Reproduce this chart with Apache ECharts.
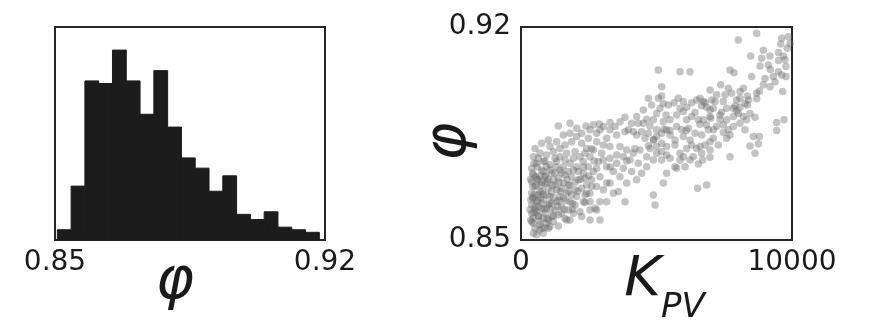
<!DOCTYPE html>
<html><head><meta charset="utf-8">
<script src="https://cdn.jsdelivr.net/npm/echarts@6/dist/echarts.min.js"></script>
<style>html,body{margin:0;padding:0;background:#fff}#c{width:869px;height:335px}</style>
</head><body><div id="c"></div><script>
// ---- data ----
const binEdges = [0.8506,0.85418,0.85775,0.86133,0.8649,0.86848,0.87205,0.87563,0.8792,0.88278,0.88635,0.88993,0.8935,0.89708,0.90065,0.90423,0.9078,0.91138,0.91495,0.91853];
const binCounts = [4,21,62,61,74,62,49,66,44,32,28,19,25,10,8,11,5,4,3];
const histTicks = [0.85, 0.92];
const kpvTicks = [0, 10000];
const phiTicks = [0.85, 0.92];
const scatterPoints = [
[8696,0.9179],[8020,0.9157],[9865,0.9168],[9582,0.9144],[9828,0.9130],[8475,0.9105],[8880,0.9097],[9188,0.9105],[8819,0.9072],[9127,0.9075],[9496,0.9116],[9680,0.9105],[9778,0.9070],[9496,0.9053],[9619,0.9042],[9778,0.9037],[9373,0.9020],[9655,0.8988],[9004,0.9031],[8512,0.9037],[8204,0.8999],[7712,0.9059],[7860,0.9050],[7650,0.8999],[7368,0.9010],[6974,0.8993],[7220,0.8977],[7466,0.8955],[7036,0.8960],[6728,0.8955],[8696,0.8964],[8352,0.8944],[8081,0.8936],[7958,0.8925],[8635,0.8903],[9434,0.8886],[9705,0.8895],[9434,0.8860],[8573,0.8840],[8794,0.8840],[8450,0.8809],[8758,0.8816],[8635,0.8785],[7712,0.8774],[7712,0.8845],[7466,0.8853],[7097,0.8834],[7282,0.8812],[6974,0.8772],[6703,0.8763],[6544,0.8750],[6851,0.8681],[6519,0.8670],[5068,0.9059],[5867,0.9053],[6236,0.9053],[5191,0.9004],[4699,0.8966],[5068,0.8966],[5191,0.8973],[5646,0.8951],[6113,0.8936],[6298,0.8951],[6482,0.8960],[6667,0.8941],[6851,0.8936],[7097,0.8933],[6421,0.8919],[5990,0.8922],[5744,0.8911],[5350,0.8911],[5006,0.8916],[4637,0.8897],[4268,0.8906],[3838,0.8903],[3284,0.8886],[2890,0.8881],[2669,0.8879],[2398,0.8875],[1808,0.8884],[1378,0.8875],
[4514,0.8884],[4760,0.8875],[5006,0.8862],[5277,0.8864],[5498,0.8845],[5744,0.8873],[5929,0.8862],[6175,0.8867],[6421,0.8851],[6667,0.8845],[6913,0.8862],[7220,0.8873],[7589,0.8895],[7835,0.8906],[8204,0.8906],[8081,0.8966],[8266,0.8949],[7958,0.8960],[7835,0.8933],[7589,0.8933],[7343,0.8895],[6974,0.8906],[6728,0.8895],
[3960,0.8862],[4145,0.8856],[3838,0.8856],[4268,0.8845],[4575,0.8834],[4883,0.8829],[5191,0.8818],[5006,0.8807],[5375,0.8807],[5682,0.8812],[5867,0.8785],[6113,0.8801],[6298,0.8812],[5990,0.8774],[6359,0.8774],[6605,0.8807],[6974,0.8823],[5498,0.8769],[5191,0.8763],[5682,0.8741],[5375,0.8719],[5252,0.8687],[4883,0.8648],[4945,0.8615],[5744,0.8736],[5867,0.8763],
[3284,0.8862],[3530,0.8845],[3161,0.8834],[2792,0.8851],[2546,0.8862],[2239,0.8851],[2054,0.8867],[2485,0.8834],[2792,0.8823],[3038,0.8812],[3284,0.8807],[3653,0.8807],[3899,0.8796],[4145,0.8785],[4391,0.8796],[4637,0.8774],[4883,0.8763],[4637,0.8741],[4329,0.8752],[4022,0.8763],[3776,0.8774],[3530,0.8779],[3284,0.8769],[2976,0.8785],[2669,0.8796],[2423,0.8801],[2546,0.8774],[2854,0.8758],[3161,0.8741],[3407,0.8725],[3776,0.8736],[4084,0.8725],[4452,0.8719],[4268,0.8698],[3899,0.8687],[3592,0.8659],[3838,0.8626],[3161,0.8687],[2915,0.8708],[2669,0.8725],[2485,0.8741],[2300,0.8719],[2792,0.8676],[2546,0.8654],[2915,0.8626],[3161,0.8626],[2730,0.8604],[2546,0.8599],[2362,0.8623],
[6605,0.8966],[6790,0.8951],[6974,0.8927],[6298,0.8906],[6113,0.8895],[6544,0.8895],[6851,0.8878],[7097,0.8862],[7466,0.8878],[7650,0.8862],[7835,0.8873],[8081,0.8884],[8327,0.8895],[8020,0.8916],[8450,0.8916],[8266,0.8862],[7589,0.8834],[7343,0.8911],[7159,0.8955],[7528,0.8977],[7774,0.8982],[8081,0.8988],[8352,0.8973],[8696,0.8982],[8942,0.9010],[9188,0.9004],[9311,0.9037],[9742,0.9092],[9926,0.9146],[9619,0.9163],[8942,0.9124],
[5498,0.8895],[5252,0.8889],[4883,0.8895],[5129,0.8933],[5437,0.8944],[5867,0.8933],[5990,0.8955],[5806,0.8966],[5252,0.8949],[4821,0.8944],[4514,0.8927],[4330,0.8884],[4084,0.8884],[3653,0.8889],[3469,0.8873],[3038,0.8873],[2915,0.8862],[5191,0.8851],[5375,0.8862],[5006,0.8840],[4698,0.8851],[4452,0.8856],[5682,0.8829],[5990,0.8840],[6236,0.8829],[6482,0.8801],[6790,0.8812],[6667,0.8785],[6974,0.8796],[6236,0.8763],[6052,0.8741],[5375,0.8779],[5006,0.8785],[4760,0.8801],[5191,0.8790],
[517,0.8801],[762,0.8818],[1009,0.8829],[1316,0.8823],[1623,0.8812],[1869,0.8823],[1070,0.8807],[1439,0.8801],[2054,0.8840],[2239,0.8818],[1808,0.8851],[1562,0.8845],
[455,0.8774],[701,0.8785],[947,0.8779],[1193,0.8790],[1439,0.8774],[1685,0.8785],[1992,0.8790],[2177,0.8774],[2362,0.8785],[578,0.8752],[824,0.8758],[1070,0.8747],[1316,0.8758],[1562,0.8741],[1808,0.8752],[2054,0.8741],[2300,0.8758],[394,0.8736],[763,0.8730],[1439,0.8730],
[455,0.8714],[640,0.8698],[886,0.8708],[1132,0.8719],[1378,0.8703],[1624,0.8714],[1870,0.8708],[2115,0.8698],[2362,0.8703],[2608,0.8698],[517,0.8676],[763,0.8681],[1009,0.8670],[1255,0.8681],[1500,0.8670],[1747,0.8681],[1993,0.8665],[2239,0.8670],[394,0.8654],[2423,0.8654],
[455,0.8637],[640,0.8648],[824,0.8632],[1070,0.8643],[1316,0.8626],[1562,0.8637],[1808,0.8626],[2054,0.8643],[517,0.8610],[763,0.8604],[1009,0.8615],[1255,0.8599],[1500,0.8610],[1747,0.8599],[1993,0.8615],[394,0.8588],[640,0.8577],[886,0.8588],[1132,0.8577],[1378,0.8582],[1624,0.8571],[2177,0.8593],[2792,0.8599],[2300,0.8626],[2546,0.8626],
[455,0.8555],[701,0.8561],[947,0.8555],[1378,0.8546],[1685,0.8566],[517,0.8539],[763,0.8539],[1070,0.8544],[578,0.8517],[455,0.8572],
[394,0.8692],[554,0.8708],[701,0.8659],[886,0.8686],[947,0.8648],[1132,0.8659],[1316,0.8665],[578,0.8626],[763,0.8621],[947,0.8604],[1132,0.8621],[394,0.8615],[578,0.8593],[824,0.8572],[1009,0.8566],[455,0.8522],[676,0.8533],[1193,0.8561],[1439,0.8643],[1685,0.8654],[1870,0.8648],[1562,0.8687],[1193,0.8698],[824,0.8725],[1070,0.8730],[640,0.8769],[947,0.8741],[1255,0.8769],[1624,0.8763],[1931,0.8769],[2115,0.8725],[1931,0.8730],[1747,0.8725],[430,0.8676],[430,0.8719],[480,0.8752],[357,0.8632],[357,0.8566],[824,0.8522],[1009,0.8539],
[2608,0.8676],[3038,0.8665],[3284,0.8687],[3407,0.8654],[3038,0.8763],[3530,0.8752],[3653,0.8708],[2792,0.8736],[2423,0.8681],[2362,0.8648],[2239,0.8577],[2546,0.8566],[2915,0.8566],[1500,0.8588],[1808,0.8566],[1931,0.8588],
[600,0.8700],[720,0.8640],[850,0.8600],[980,0.8690],[1100,0.8600],[1200,0.8640],[1350,0.8610],[1450,0.8660],[650,0.8580],[780,0.8660],[900,0.8710],[1150,0.8680],[1250,0.8720],[1400,0.8690],[1650,0.8630],[1750,0.8660],[1900,0.8620],[2000,0.8690],[520,0.8600],[600,0.8630],[700,0.8550],[880,0.8540],[400,0.8560],[500,0.8650],[560,0.8680],[350,0.8700],[330,0.8600],[600,0.8740],[700,0.8710],[880,0.8760],[1000,0.8700],[1300,0.8740],[1500,0.8720],[1700,0.8700],[1800,0.8680],[2100,0.8660],[2200,0.8700],[1600,0.8600],[1900,0.8600],[1200,0.8580],[960,0.8570],[1400,0.8630],[760,0.8690],[430,0.8640],[480,0.8590],[650,0.8610],[820,0.8650],[1050,0.8620],
[2300,0.8740],[2500,0.8710],[2700,0.8760],[2600,0.8800],[3300,0.8740],[3900,0.8760],[4200,0.8800],[4700,0.8810],[4900,0.8830],[5500,0.8860],[6100,0.8860],[6600,0.8880],[7000,0.8900],[7400,0.8920],[7900,0.8940],[8400,0.8960],[8800,0.8990],[9200,0.9060],[9500,0.9090]
];

// ---- chart ----
const FONT = 'DejaVu Sans';
const TXT = '#1a1a1a';
const chart = echarts.init(document.getElementById('c'), null, {renderer: 'canvas'});
const histData = binCounts.map((c, i) => [binEdges[i], binEdges[i + 1], c]);
const tickLabel = (margin) => ({
  fontFamily: FONT, fontSize: 28, color: TXT, margin: margin,
  formatter: v => String(v)
});
chart.setOption({
  animation: false,
  backgroundColor: '#fff',
  grid: [
    {left: 55, top: 27, width: 270, height: 213, show: true, borderColor: '#262626', borderWidth: 2, backgroundColor: 'transparent', containLabel: false, outerBoundsMode: 'none'},
    {left: 521, top: 27, width: 271, height: 213, show: true, borderColor: '#262626', borderWidth: 2, backgroundColor: 'transparent', containLabel: false, outerBoundsMode: 'none'}
  ],
  xAxis: [
    {type: 'value', gridIndex: 0, min: 0.85, max: 0.92,
     axisLine: {show: false}, axisTick: {show: false}, splitLine: {show: false},
     axisLabel: Object.assign(tickLabel(9), {customValues: histTicks}),
     name: 'φ', nameLocation: 'middle', nameGap: 14, nameMoveOverlap: false,
     nameTextStyle: {fontFamily: FONT, fontSize: 58, fontStyle: 'italic', color: TXT, padding: [0, 30, 0, 0]}},
    {type: 'value', gridIndex: 1, min: 0, max: 10000,
     axisLine: {show: false}, axisTick: {show: false}, splitLine: {show: false},
     axisLabel: Object.assign(tickLabel(9), {customValues: kpvTicks}),
     name: '{k|K}{s|PV}', nameLocation: 'middle', nameGap: -5, nameMoveOverlap: false,
     nameTextStyle: {padding: [0, 0, 0, 16], rich: {
       k: {fontFamily: FONT, fontSize: 56, fontStyle: 'italic', color: TXT},
       s: {fontFamily: FONT, fontSize: 34, fontStyle: 'italic', color: TXT, padding: [56, 0, 0, 0]}
     }}}
  ],
  yAxis: [
    {type: 'value', gridIndex: 0, min: 0, max: 83, show: false, splitLine: {show: false}},
    {type: 'value', gridIndex: 1, min: 0.85, max: 0.92,
     axisLine: {show: false}, axisTick: {show: false}, splitLine: {show: false},
     axisLabel: Object.assign(tickLabel(10), {customValues: phiTicks}),
     name: 'φ', nameLocation: 'middle', nameGap: 42, nameRotate: 90, nameMoveOverlap: false,
     nameTextStyle: {fontFamily: FONT, fontSize: 58, fontStyle: 'italic', color: TXT, padding: [0, 16, 0, 0]}}
  ],
  series: [
    {type: 'custom', xAxisIndex: 0, yAxisIndex: 0, data: histData,
     encode: {x: [0, 1], y: 2},
     renderItem: (params, api) => {
       const p0 = api.coord([api.value(0), api.value(2)]);
       const p1 = api.coord([api.value(1), 0]);
       return {type: 'rect', shape: {x: p0[0], y: p0[1], width: p1[0] - p0[0], height: p1[1] - p0[1]},
               style: {fill: '#1c1c1c', stroke: '#1c1c1c', lineWidth: 1}};
     }},
    {type: 'scatter', xAxisIndex: 1, yAxisIndex: 1, data: scatterPoints,
     symbolSize: 7.5, itemStyle: {color: '#6a6a6a', opacity: 0.4}}
  ]
});
</script></body></html>
